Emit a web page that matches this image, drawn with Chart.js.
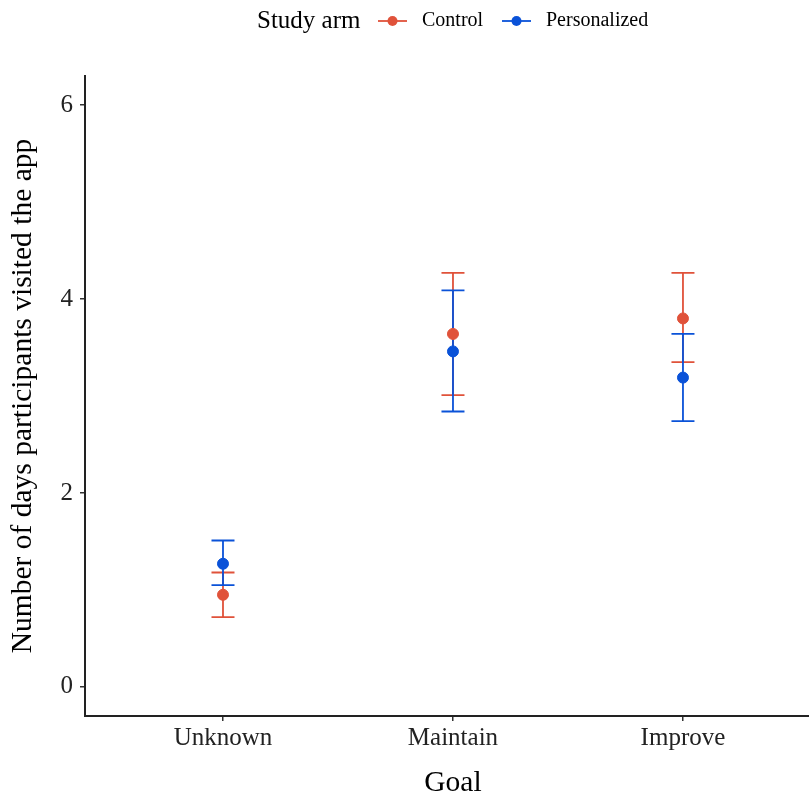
<!DOCTYPE html>
<html>
<head>
<meta charset="utf-8">
<script src="https://cdn.jsdelivr.net/npm/chart.js@4.4.1/dist/chart.umd.min.js"></script>
<style>
  body { margin: 0; background: #fff; }
  canvas { display: block; }
</style>
</head>
<body>
<canvas id="chart" width="809" height="797"></canvas>
<script>
// data
var goals = ["Unknown", "Maintain", "Improve"];
var controlMean = [0.95, 3.64, 3.80];
var controlLow = [0.72, 3.01, 3.35];
var controlHigh = [1.18, 4.27, 4.27];
var personalMean = [1.27, 3.46, 3.19];
var personalLow = [1.05, 2.84, 2.74];
var personalHigh = [1.51, 4.09, 3.64];
var yTicks = [0, 2, 4, 6];

var red = "#e0523a";
var blue = "#0a52d8";
var serif = "'Liberation Serif', 'DejaVu Serif', serif";

function points(vals) {
  return vals.map(function (v, i) { return { x: i + 1, y: v }; });
}

// error bars, drawn before the points
var errorBars = {
  id: "errorBars",
  beforeDatasetsDraw: function (chart) {
    var ctx = chart.ctx;
    var xs = chart.scales.x, ys = chart.scales.y;
    var sets = [[controlLow, controlHigh, red], [personalLow, personalHigh, blue]];
    ctx.save();
    ctx.lineWidth = 1.8;
    sets.forEach(function (s) {
      ctx.strokeStyle = s[2];
      for (var i = 0; i < goals.length; i++) {
        var px = xs.getPixelForValue(i + 1);
        var lo = ys.getPixelForValue(s[0][i]);
        var hi = ys.getPixelForValue(s[1][i]);
        ctx.beginPath();
        ctx.moveTo(px, lo); ctx.lineTo(px, hi);
        ctx.moveTo(px - 11.5, lo); ctx.lineTo(px + 11.5, lo);
        ctx.moveTo(px - 11.5, hi); ctx.lineTo(px + 11.5, hi);
        ctx.stroke();
      }
    });
    ctx.restore();
  }
};

// ggplot style legend at the top + x title centred on the (cropped) panel
var topLegend = {
  id: "topLegend",
  afterDraw: function (chart) {
    var ctx = chart.ctx;
    ctx.save();
    ctx.textBaseline = "middle";
    ctx.fillStyle = "#000";
    ctx.font = "25px " + serif;
    ctx.fillText("Study arm", 257, 21);
    var items = [["Control", red, 378], ["Personalized", blue, 502]];
    ctx.font = "20px " + serif;
    items.forEach(function (it) {
      ctx.strokeStyle = it[1];
      ctx.fillStyle = it[1];
      ctx.lineWidth = 1.8;
      ctx.beginPath();
      ctx.moveTo(it[2], 21); ctx.lineTo(it[2] + 29, 21);
      ctx.stroke();
      ctx.beginPath();
      ctx.arc(it[2] + 14.5, 21, 5, 0, Math.PI * 2);
      ctx.fill();
      ctx.fillStyle = "#000";
      ctx.fillText(it[0], it[2] + 44, 21);
    });
    ctx.font = "29.5px " + serif;
    ctx.textAlign = "center";
    ctx.textBaseline = "alphabetic";
    ctx.fillText("Goal", chart.scales.x.getPixelForValue(2), 791);
    ctx.restore();
  }
};

new Chart(document.getElementById("chart"), {
  type: "scatter",
  data: {
    datasets: [
      { label: "Control", data: points(controlMean), backgroundColor: red, borderColor: red, pointRadius: 5.5, pointHoverRadius: 5.5 },
      { label: "Personalized", data: points(personalMean), backgroundColor: blue, borderColor: blue, pointRadius: 5.5, pointHoverRadius: 5.5 }
    ]
  },
  options: {
    responsive: false,
    animation: false,
    layout: { autoPadding: false, padding: { top: 76, right: 0, left: 0, bottom: 0 } },
    plugins: { legend: { display: false }, tooltip: { enabled: false } },
    scales: {
      x: {
        type: "linear",
        min: 0.4,
        max: 3.548,
        afterBuildTicks: function (scale) {
          scale.ticks = goals.map(function (g, i) { return { value: i + 1 }; });
        },
        afterFit: function (scale) {
          scale.height = 81;
          scale.paddingRight = 0;
          scale.paddingLeft = 0;
        },
        ticks: {
          autoSkip: false,
          maxRotation: 0,
          color: "#222",
          padding: 2,
          font: { family: serif, size: 25 },
          callback: function (v) { return goals[v - 1]; }
        },
        grid: { drawOnChartArea: false, drawTicks: true, tickLength: 5, color: "#333", lineWidth: 1.5 },
        border: { display: true, color: "#222", width: 2 },
        title: { display: false }
      },
      y: {
        min: -0.3,
        max: 6.3,
        afterBuildTicks: function (scale) {
          scale.ticks = yTicks.map(function (v) { return { value: v }; });
        },
        afterFit: function (scale) { scale.width = 85; },
        ticks: { color: "#222", padding: 7, font: { family: serif, size: 25 } },
        grid: { drawOnChartArea: false, drawTicks: true, tickLength: 5, color: "#333", lineWidth: 1.5 },
        border: { display: true, color: "#222", width: 2 },
        title: { display: true, text: "Number of days participants visited the app", color: "#000", font: { family: serif, size: 29.5 }, padding: { bottom: 0, top: 6 } }
      }
    }
  },
  plugins: [errorBars, topLegend]
});
</script>
</body>
</html>
